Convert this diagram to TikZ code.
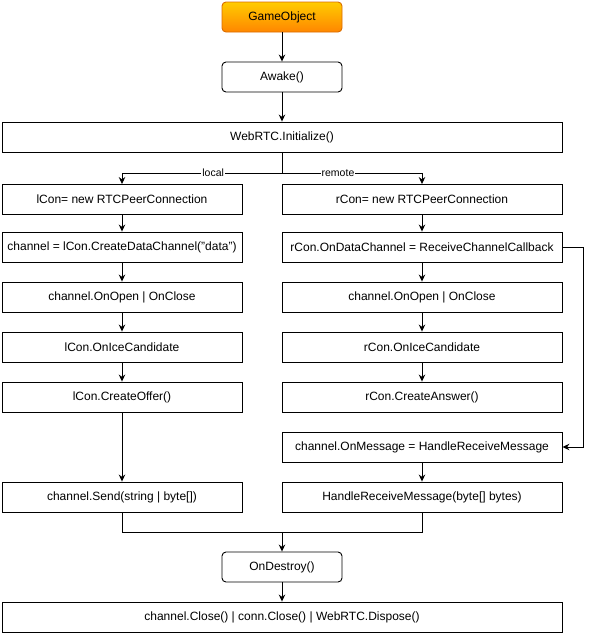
\documentclass[tikz,border=0pt]{standalone}
\usepackage{fontspec}
\setmainfont{Liberation Sans}
\usetikzlibrary{arrows.meta}
\begin{document}
\begin{tikzpicture}[x=1pt,y=-1pt,
  every node/.style={font=\fontsize{12}{14}\selectfont},
  box/.style={draw, line width=0.9pt, minimum height=30pt, inner sep=0pt, anchor=center},
  lbox/.style={box, minimum width=240pt},
  rbox/.style={box, minimum width=280pt},
  wbox/.style={box, minimum width=560pt},
  rbx/.style={box, rounded corners=4pt, minimum width=120pt},
  arr/.style={line width=0.9pt, -{Stealth[length=7pt,width=6.5pt]}},
  ln/.style={line width=0.9pt},
  lab/.style={fill=white, inner sep=1pt, font=\fontsize{10.5}{12}\selectfont}]
\useasboundingbox (0,0) rectangle (593,635);

\node[rbx, draw=orange!85!black, top color=yellow!60!orange, bottom color=orange!95!yellow] (go) at (282,17) {GameObject};
\node[rbx] (awake) at (282,77) {Awake()};
\node[wbox] (init) at (282,137) {WebRTC.Initialize()};

\node[lbox] (l1) at (122,199.5) {lCon= new RTCPeerConnection};
\node[lbox] (l2) at (122,247) {channel = lCon.CreateDataChannel("data")};
\node[lbox] (l3) at (122,297) {channel.OnOpen | OnClose};
\node[lbox] (l4) at (122,347) {lCon.OnIceCandidate};
\node[lbox] (l5) at (122,397) {lCon.CreateOffer()};
\node[lbox] (l6) at (122,497) {channel.Send(string | byte[])};

\node[rbox] (r1) at (422,199.5) {rCon= new RTCPeerConnection};
\node[rbox] (r2) at (422,247) {rCon.OnDataChannel = ReceiveChannelCallback};
\node[rbox] (r3) at (422,297) {channel.OnOpen | OnClose};
\node[rbox] (r4) at (422,347) {rCon.OnIceCandidate};
\node[rbox] (r5) at (422,397) {rCon.CreateAnswer()};
\node[rbox] (r6) at (422,447) {channel.OnMessage = HandleReceiveMessage};
\node[rbox] (r7) at (422,497) {HandleReceiveMessage(byte[] bytes)};

\node[rbx] (destroy) at (282,567) {OnDestroy()};
\node[wbox] (fin) at (282,617) {channel.Close() | conn.Close() | WebRTC.Dispose()};

\coordinate (split) at (282,173);
\coordinate (merge) at (282,532);

\draw[arr] (go) -- (awake);
\draw[arr] (awake) -- (init);
\draw[ln] (init.south) -- (split);
\draw[arr] (split) -- node[lab, pos=0.43] {local} (122,173) -- (l1.north);
\draw[arr] (split) -- node[lab, pos=0.4] {remote} (422,173) -- (r1.north);

\draw[arr] (l1) -- (l2);
\draw[arr] (l2) -- (l3);
\draw[arr] (l3) -- (l4);
\draw[arr] (l4) -- (l5);
\draw[arr] (l5) -- (l6);

\draw[arr] (r1) -- (r2);
\draw[arr] (r2) -- (r3);
\draw[arr] (r3) -- (r4);
\draw[arr] (r4) -- (r5);
\draw[arr] (r6) -- (r7);
\draw[arr] (r2.east) -- (583,247) -- (583,447) -- (r6.east);

\draw[ln] (l6.south) -- (122,532) -- (422,532) -- (r7.south);
\draw[arr] (merge) -- (destroy);
\draw[arr] (destroy) -- (fin);
\end{tikzpicture}
\end{document}
